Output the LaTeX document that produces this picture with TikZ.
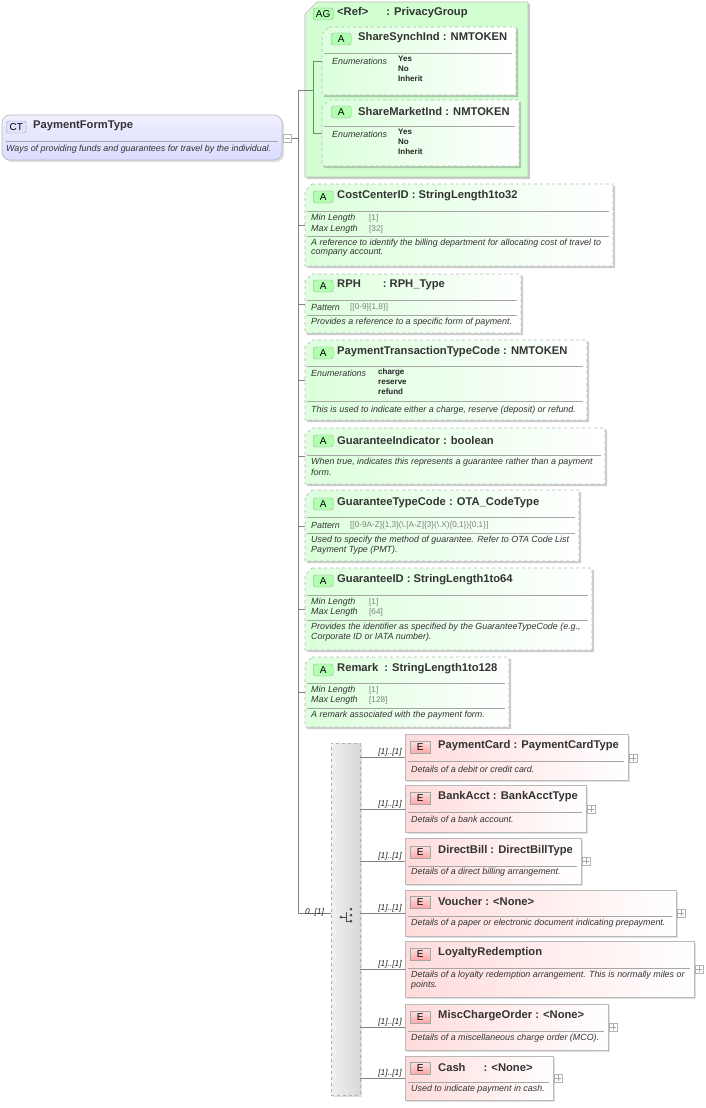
\documentclass[tikz,border=0pt]{standalone}
\usepackage{fontspec}
\setmainfont{Liberation Sans}
\usetikzlibrary{shadows}
\newcommand\Bx[6]{\node[#6, minimum width={#4pt-#2pt}, minimum height={#5pt-#3pt}] (#1) at ({(#2+#4)/2},{(#3+#5)/2}) {};}
\newcommand\Ax[7]{\node[minimum width={#4pt-#2pt}, minimum height={#5pt-#3pt}] (#1) at ({(#2+#4)/2},{(#3+#5)/2}) {};
 \fill[black, opacity=0.2] (#2+#7+2,#3+2) -- (#4+2,#3+2) -- (#4+2,#5+2) -- (#2+2,#5+2) -- (#2+2,#3+#7+2) -- cycle;
 \path[#6] (#2+#7,#3) -- (#4,#3) -- (#4,#5) -- (#2,#5) -- (#2,#3+#7) -- cycle;}
\newcommand\Tt[3]{\node[ttl, anchor=west] at (#1,#2) {#3};}
\newcommand\Dc[3]{\node[dsc, anchor=west] at (#1,#2) {#3};}
\newcommand\Sp[3]{\draw[sepl] (#1,#3) -- (#2,#3);}
\newcommand\Bd[4]{\node[badge,#4, anchor=west] at (#1,#2) {#3};}
\newcommand\Pl[2]{\node[plusb] at (#1,#2) {}; \draw[gray!70] (#1-3,#2) -- (#1+3,#2) (#1,#2-3) -- (#1,#2+3);}
\tikzset{
 x=1pt,y=-1pt,
 every node/.style={inner sep=0pt},
 ttl/.style={font=\fontsize{11.2}{12}\selectfont\bfseries, text=black!80},
 dsc/.style={font=\fontsize{8.9}{10}\selectfont\itshape, text=black!80},
 val/.style={font=\fontsize{8}{10}\selectfont\bfseries, text=black!85, align=left},
 fac/.style={font=\fontsize{8.2}{9}\selectfont, text=gray},
 sepl/.style={gray!70, line width=0.5pt},
 attr/.style={draw=gray!55, dashed, line width=0.7pt, left color=green!14, right color=white},
 agbox/.style={draw=gray!55, line width=0.7pt, fill=green!18},
 elem/.style={draw=gray!55, line width=0.6pt, left color=red!14, right color=white, drop shadow={opacity=0.25, shadow xshift=2pt, shadow yshift=-2pt}},
 ctbox/.style={draw=gray!55, line width=0.6pt, rounded corners=8pt, top color=blue!6, bottom color=blue!14, drop shadow={opacity=0.25, shadow xshift=2pt, shadow yshift=-2pt}},
 badge/.style={draw=gray!70, rounded corners=2.5pt, minimum height=12pt, minimum width=20pt, font=\fontsize{10}{10}\selectfont},
 abadge/.style={fill=green!30},
 ebadge/.style={top color=red!12, bottom color=red!35, rounded corners=0pt},
 plusb/.style={draw=gray!60, minimum size=8pt, fill=white},
 conn/.style={gray, line width=0.6pt},
 mult/.style={font=\fontsize{8.4}{9}\selectfont\itshape, text=black!85}
}
\begin{document}
\begin{tikzpicture}
\useasboundingbox (0,0) rectangle (705,1108);
% complex type
\Bx{ct}{2}{115}{282}{160}{ctbox}
\Bd{6}{127}{CT}{fill=blue!12}
\Tt{33}{126}{PaymentFormType}
\Sp{6}{278}{141}
\Dc{6}{149}{Ways of providing funds and guarantees for travel by the individual.}
\node[plusb] (minus) at (287.5,138) {}; \draw[gray!70] (285,138) -- (290,138);
% trunk
\coordinate (t0) at (298,90); \coordinate (t1) at (298,913); \coordinate (tm) at (298,138);
\draw[conn] (minus.east) -- (tm);
\draw[conn] (t0) -- (t1);
% attribute group
\Ax{ag}{305}{2}{528}{177}{agbox}{12}
\Bd{313}{14}{AG}{fill=green!30}
\Tt{337}{13}{<Ref>\hspace{18pt}: PrivacyGroup}
\Ax{ssi}{322}{27}{516}{95}{attr}{7}
\Bd{331}{39}{A}{abadge}
\Tt{358}{38}{ShareSynchInd : NMTOKEN}
\Sp{324}{512}{53}
\Dc{332}{61}{Enumerations}
\node[val, anchor=north west] at (398,56) {Yes\\No\\Inherit};
\Ax{smi}{322}{100}{519}{166}{attr}{7}
\Bd{331}{112}{A}{abadge}
\Tt{358}{111}{ShareMarketInd : NMTOKEN}
\Sp{324}{515}{126}
\Dc{332}{134}{Enumerations}
\node[val, anchor=north west] at (398,129) {Yes\\No\\Inherit};
\coordinate (ag1) at (313,61); \coordinate (ag2) at (313,133);
\draw[conn] (ag1) -- (ssi.west|-ag1) (ag2) -- (smi.west|-ag2) (ag1) -- (ag2);
\draw[conn] (t0) -- (313,90);
% CostCenterID
\Ax{cc}{305}{184}{613}{266}{attr}{7}
\Bd{313}{197}{A}{abadge}
\Tt{337}{196}{CostCenterID : StringLength1to32}
\Sp{307}{609}{211}
\Dc{311}{218}{Min Length} \Dc{311}{229}{Max Length}
\node[fac, anchor=west] at (369,218) {[1]}; \node[fac, anchor=west] at (369,229) {[32]};
\Sp{307}{609}{236}
\Dc{311}{243}{A reference to identify the billing department for allocating cost of travel to}
\Dc{311}{253}{company account.}
% RPH
\Ax{rph}{305}{274}{521}{333}{attr}{7}
\Bd{313}{286}{A}{abadge}
\Tt{337}{285}{RPH\hspace{22pt}: RPH\_Type}
\Sp{307}{517}{300}
\Dc{311}{307}{Pattern}
\node[fac, anchor=west] at (350,307) {[[0-9]\{1,8\}]};
\Sp{307}{517}{315}
\Dc{311}{322}{Provides a reference to a specific form of payment.}
% PTTC
\Ax{pt}{305}{340}{587}{420}{attr}{7}
\Bd{313}{353}{A}{abadge}
\Tt{337}{352}{PaymentTransactionTypeCode : NMTOKEN}
\Sp{307}{583}{366}
\Dc{311}{373}{Enumerations}
\node[val, anchor=north west] at (378,368) {charge\\reserve\\refund};
\Sp{307}{583}{401}
\Dc{311}{410}{This is used to indicate either a charge, reserve (deposit) or refund.}
% GuaranteeIndicator
\Ax{gi}{305}{428}{605}{484}{attr}{7}
\Bd{313}{441}{A}{abadge}
\Tt{337}{440}{GuaranteeIndicator : boolean}
\Sp{307}{601}{455}
\Dc{311}{462}{When true, indicates this represents a guarantee rather than a payment}
\Dc{311}{472}{form.}
% GuaranteeTypeCode
\Ax{gt}{305}{490}{579}{561}{attr}{7}
\Bd{313}{504}{A}{abadge}
\Tt{337}{503}{GuaranteeTypeCode : OTA\_CodeType}
\Sp{307}{575}{517}
\Dc{311}{525}{Pattern}
\node[fac, anchor=west] at (350,525) {[[0-9A-Z]\{1,3\}(\textbackslash.[A-Z]\{3\}(\textbackslash.X)\{0,1\})\{0,1\}]};
\Sp{307}{575}{533}
\Dc{311}{540}{Used to specify the method of guarantee. Refer to OTA Code List}
\Dc{311}{550}{Payment Type (PMT).}
% GuaranteeID
\Ax{gid}{305}{568}{592}{650}{attr}{7}
\Bd{313}{581}{A}{abadge}
\Tt{337}{580}{GuaranteeID : StringLength1to64}
\Sp{307}{588}{595}
\Dc{311}{602}{Min Length} \Dc{311}{612}{Max Length}
\node[fac, anchor=west] at (369,602) {[1]}; \node[fac, anchor=west] at (369,612) {[64]};
\Sp{307}{588}{620}
\Dc{311}{627}{Provides the identifier as specified by the GuaranteeTypeCode (e.g.,}
\Dc{311}{637}{Corporate ID or IATA number).}
% Remark
\Ax{rm}{305}{657}{509}{727}{attr}{7}
\Bd{313}{670}{A}{abadge}
\Tt{337}{669}{Remark\hspace{6pt}: StringLength1to128}
\Sp{307}{505}{683}
\Dc{311}{690}{Min Length} \Dc{311}{700}{Max Length}
\node[fac, anchor=west] at (369,690) {[1]}; \node[fac, anchor=west] at (369,700) {[128]};
\Sp{307}{505}{708}
\Dc{311}{715}{A remark associated with the payment form.}
% attribute connectors
\foreach \n/\yy in {cc/225,rph/304,pt/380,gi/456,gt/526,gid/609,rm/692}{
  \draw[conn] (298,\yy) -- (\n.west|-{(0,\yy)});
}
% choice
\node[draw=gray!60, dashed, line width=0.7pt, left color=gray!12, right color=gray!30, minimum width=29pt, minimum height=352pt, drop shadow={opacity=0.25, shadow xshift=2pt, shadow yshift=-2pt}] (ch) at (345.5,919) {};
\draw[conn] (t1) -- (ch.west|-t1);
\node[mult, anchor=west] at (305,912) {0..[1]};
\fill[black!70] (341,917) circle (1.5pt);
\draw[black!70, line width=0.7pt] (341,917) -- (346,917) (346,912) -- (346,921) -- (351,921);
\fill[black!70] (351,909) circle (1.5pt) (351,915) circle (1.5pt) (351,921) circle (1.5pt);
% elements
\Bx{e1}{405}{734}{628}{780}{elem}
\Bx{e2}{405}{785}{586}{832}{elem}
\Bx{e3}{405}{838}{581}{884}{elem}
\Bx{e4}{405}{890}{676}{936}{elem}
\Bx{e5}{405}{941}{694}{997}{elem}
\Bx{e6}{405}{1004}{608}{1050}{elem}
\Bx{e7}{405}{1056}{553}{1100}{elem}
\foreach \n/\yy/\tx/\sx in {e1/746/{PaymentCard : PaymentCardType}/624, e2/797/{BankAcct : BankAcctType}/582, e3/851/{DirectBill : DirectBillType}/577, e4/901/{Voucher : <None>}/672, e5/953/{LoyaltyRedemption}/690, e6/1016/{MiscChargeOrder : <None>}/604, e7/1067/{Cash\hspace{18pt}: <None>}/549}{
  \Bd{410}{\yy+1}{E}{ebadge}
  \Tt{438}{\yy}{\tx}
  \Sp{408}{\sx}{\yy+15}
}
\Dc{411}{769}{Details of a debit or credit card.}
\Dc{411}{819}{Details of a bank account.}
\Dc{411}{872}{Details of a direct billing arrangement.}
\Dc{411}{923}{Details of a paper or electronic document indicating prepayment.}
\Dc{411}{975}{Details of a loyalty redemption arrangement. This is normally miles or}
\Dc{411}{985}{points.}
\Dc{411}{1038}{Details of a miscellaneous charge order (MCO).}
\Dc{411}{1089}{Used to indicate payment in cash.}
\Pl{633}{758} \Pl{591}{809} \Pl{586}{861} \Pl{681}{913} \Pl{699}{969} \Pl{613}{1027} \Pl{558}{1078}
\foreach \n/\yy in {e1/757,e2/809,e3/861,e4/913,e5/969,e6/1027,e7/1078}{
  \draw[conn] (ch.east|-{(0,\yy)}) -- (\n.west|-{(0,\yy)});
  \node[mult, anchor=south] at (390,\yy-1) {[1]..[1]};
}
\end{tikzpicture}
\end{document}
